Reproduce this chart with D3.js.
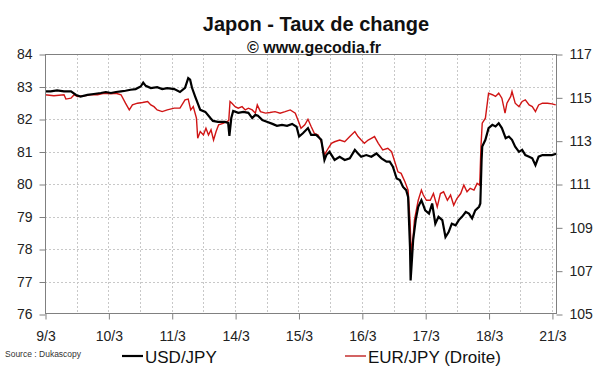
<!DOCTYPE html>
<html>
<head>
<meta charset="utf-8">
<script src="https://cdn.jsdelivr.net/npm/d3@7"></script>
<style>
  body { margin: 0; background: #fff; }
  svg { font-family: "Liberation Sans", Arial, sans-serif; }
</style>
</head>
<body>
<script>
// trading days shown on the x axis (index = position)
var days = ["9/3", "10/3", "11/3", "14/3", "15/3", "16/3", "17/3", "18/3", "21/3"];

// USD/JPY (left axis), time in trading-day units
var usdT = [0, 0.09, 0.19, 0.30, 0.41, 0.49, 0.56, 0.67, 0.77, 0.88, 0.96, 1.04, 1.12, 1.20, 1.27, 1.35, 1.43, 1.51, 1.55, 1.59, 1.67, 1.77, 1.85, 1.93, 2.04,
  2.13, 2.21, 2.26, 2.29, 2.32, 2.37, 2.45, 2.53, 2.61, 2.65, 2.73, 2.84, 2.89, 2.91, 2.94, 2.97, 3.05, 3.13, 3.21, 3.27, 3.32, 3.36, 3.43, 3.51, 3.59, 3.66, 3.74, 3.82, 3.90, 3.97,
  4.01, 4.07, 4.15, 4.20, 4.28, 4.36, 4.41, 4.44, 4.49, 4.57, 4.65, 4.73, 4.81, 4.89, 4.94, 4.99, 5.07, 5.15, 5.23, 5.31, 5.39, 5.44, 5.49, 5.55, 5.60, 5.65, 5.70, 5.73,
  5.76, 5.77, 5.79, 5.81, 5.85, 5.89, 5.94, 5.97, 6.00, 6.06, 6.11, 6.16, 6.21, 6.27, 6.32, 6.37, 6.42, 6.48, 6.53, 6.58, 6.64, 6.69, 6.74, 6.79, 6.85, 6.87,
  6.89, 6.90, 6.95, 7.00, 7.06, 7.11, 7.16, 7.21, 7.27, 7.32, 7.37, 7.42, 7.48, 7.53, 7.58, 7.64, 7.69, 7.74, 7.79, 7.85, 7.90, 7.95, 8.00, 8.08];
var usd = [82.85, 82.85, 82.88, 82.85, 82.85, 82.74, 82.69, 82.74, 82.77, 82.80, 82.83, 82.80, 82.83, 82.85, 82.87, 82.90, 82.92, 83.00, 83.12, 83.02, 82.95, 82.98, 82.92, 82.95, 82.92,
  82.83, 82.96, 83.26, 83.21, 82.96, 82.69, 82.28, 82.22, 82.03, 81.94, 81.91, 81.91, 81.88, 81.48, 82.03, 82.25, 82.19, 82.22, 82.19, 82.03, 82.13, 82.10, 81.97, 81.91, 81.85, 81.79, 81.82, 81.79, 81.85, 81.76,
  81.46, 81.56, 81.72, 81.51, 81.51, 81.36, 80.74, 80.89, 80.99, 80.74, 80.84, 80.74, 80.79, 81.05, 80.94, 80.84, 80.89, 80.84, 80.94, 80.79, 80.69, 80.69, 80.53, 80.17, 80.12, 79.91, 79.81, 79.60,
  78.06, 77.03, 77.65, 78.27, 78.89, 79.30, 79.50, 79.35, 79.19, 79.09, 79.40, 78.78, 78.99, 78.89, 78.37, 78.52, 78.78, 78.73, 78.89, 78.99, 79.14, 79.09, 78.94, 79.19, 79.30, 79.40,
  80.74, 81.15, 81.36, 81.72, 81.82, 81.77, 81.87, 81.72, 81.41, 81.46, 81.36, 81.15, 80.99, 81.05, 80.89, 80.84, 80.79, 80.58, 80.84, 80.89, 80.89, 80.89, 80.89, 80.94];

// EUR/JPY (right axis)
var eurT = [0, 0.14, 0.30, 0.33, 0.41, 0.46, 0.51, 0.62, 0.72, 0.83, 0.93, 1.04, 1.12, 1.20, 1.27, 1.33, 1.38, 1.46, 1.54, 1.62, 1.67, 1.72, 1.77, 1.85, 1.93, 2.04,
  2.13, 2.21, 2.26, 2.30, 2.34, 2.39, 2.41, 2.45, 2.50, 2.54, 2.58, 2.62, 2.66, 2.70, 2.74, 2.82, 2.90, 2.92, 2.95, 3.00, 3.05, 3.11, 3.16, 3.21, 3.27, 3.32, 3.35, 3.40, 3.48, 3.55, 3.63, 3.71, 3.79, 3.87, 3.95,
  4.01, 4.04, 4.10, 4.15, 4.20, 4.25, 4.31, 4.36, 4.41, 4.47, 4.52, 4.57, 4.65, 4.73, 4.81, 4.89, 4.94, 4.99, 5.04, 5.10, 5.15, 5.20, 5.26, 5.33, 5.41, 5.47, 5.52, 5.57, 5.62, 5.68, 5.73,
  5.76, 5.78, 5.81, 5.83, 5.89, 5.94, 5.97, 6.02, 6.08, 6.13, 6.19, 6.24, 6.29, 6.35, 6.40, 6.45, 6.50, 6.56, 6.61, 6.66, 6.71, 6.77, 6.82, 6.86,
  6.88, 6.90, 6.95, 7.00, 7.06, 7.11, 7.16, 7.21, 7.26, 7.29, 7.35, 7.37, 7.42, 7.48, 7.53, 7.58, 7.64, 7.69, 7.74, 7.79, 7.85, 7.93, 8.00, 8.06];
var eur = [115.12, 115.07, 115.12, 114.92, 114.96, 115.12, 115.04, 115.07, 115.12, 115.12, 115.19, 115.16, 115.19, 115.12, 114.73, 114.42, 114.65, 114.73, 114.76, 114.81, 114.65, 114.57, 114.42, 114.34, 114.42, 114.50,
  114.50, 114.88, 114.92, 114.42, 114.57, 114.04, 113.11, 113.42, 113.26, 113.57, 113.26, 113.50, 113.03, 113.42, 113.73, 113.81, 113.93, 114.81, 114.73, 114.57, 114.50, 114.57, 114.42, 114.50, 114.42, 114.27, 114.65, 114.34, 114.27, 114.30, 114.34, 114.27, 114.34, 114.42, 114.27,
  113.81, 113.57, 113.73, 113.99, 113.65, 113.34, 113.26, 112.95, 112.34, 112.65, 112.88, 112.95, 113.03, 112.95, 113.19, 113.42, 113.19, 113.03, 112.88, 113.03, 113.11, 113.19, 112.88, 112.57, 112.65, 112.49, 112.03, 111.56, 111.49, 111.10, 110.72,
  109.33, 107.79, 108.56, 109.33, 110.25, 110.72, 110.49, 110.25, 110.25, 110.56, 109.94, 110.56, 110.64, 110.25, 110.49, 110.02, 110.33, 110.56, 110.95, 110.64, 110.80, 110.72, 111.03, 110.95,
  112.72, 113.81, 114.04, 115.19, 115.12, 115.04, 115.19, 114.96, 114.27, 114.73, 115.04, 115.27, 114.73, 114.57, 114.81, 114.88, 114.65, 114.57, 114.34, 114.65, 114.73, 114.73, 114.70, 114.65];

var leftTicks = [76, 77, 78, 79, 80, 81, 82, 83, 84];
var rightTicks = [105, 107, 109, 111, 113, 115, 117];

var W = 600, H = 372;
var svg = d3.select("body").append("svg").attr("width", W).attr("height", H);

var x = d3.scaleLinear().domain([0, 8.08]).range([45, 557]);
var yL = d3.scaleLinear().domain([76, 84]).range([314, 54]);
var yR = d3.scaleLinear().domain([105, 117]).range([314, 54]);

// grid
var grid = svg.append("g").attr("stroke", "#c8c8c8").attr("stroke-dasharray", "2,2").attr("stroke-width", 1);
grid.selectAll("line.h").data(leftTicks.slice(1, -1)).enter().append("line")
  .attr("x1", 45).attr("x2", 557)
  .attr("y1", function(d){ return Math.round(yL(d)) + 0.5; })
  .attr("y2", function(d){ return Math.round(yL(d)) + 0.5; });
grid.selectAll("line.v").data(d3.range(1, 17).map(function(i){ return i / 2; })).enter().append("line")
  .attr("y1", 54).attr("y2", 314)
  .attr("x1", function(d){ return Math.round(x(d)) + 0.5; })
  .attr("x2", function(d){ return Math.round(x(d)) + 0.5; });

// lines
var lineUsd = d3.line().x(function(d){ return x(d[0]); }).y(function(d){ return yL(d[1]); });
var lineEur = d3.line().x(function(d){ return x(d[0]); }).y(function(d){ return yR(d[1]); });

svg.append("path").datum(d3.zip(eurT, eur)).attr("d", lineEur)
  .attr("fill", "none").attr("stroke", "#d01515").attr("stroke-width", 1.4);
svg.append("path").datum(d3.zip(usdT, usd)).attr("d", lineUsd)
  .attr("fill", "none").attr("stroke", "#000").attr("stroke-width", 2.2);

// frame
svg.append("rect").attr("x", 45.5).attr("y", 54.5).attr("width", 511).attr("height", 259)
  .attr("fill", "none").attr("stroke", "#808080");

// axes
var axL = svg.append("g").attr("transform", "translate(45.5,0.5)")
  .call(d3.axisLeft(yL).tickValues(leftTicks).tickSize(6).tickPadding(7).tickFormat(d3.format("d")));
var axR = svg.append("g").attr("transform", "translate(556.5,0.5)")
  .call(d3.axisRight(yR).tickValues(rightTicks).tickSize(6).tickPadding(7).tickFormat(d3.format("d")));
var axB = svg.append("g").attr("transform", "translate(0.5,313.5)")
  .call(d3.axisBottom(x).tickValues(d3.range(0, 9)).tickSize(6).tickPadding(12)
    .tickFormat(function(i){ return days[i]; }));

[axL, axR, axB].forEach(function(a){
  a.select(".domain").remove();
  a.selectAll("line").attr("stroke", "#808080");
  a.selectAll("text").attr("font-size", 14).attr("fill", "#222")
    .attr("font-family", "'Liberation Sans', Arial, sans-serif");
});

// titles
svg.append("text").attr("x", 316).attr("y", 31).attr("text-anchor", "middle")
  .attr("font-size", 20).attr("font-weight", "bold").attr("fill", "#111")
  .text("Japon - Taux de change");
svg.append("text").attr("x", 314).attr("y", 53).attr("text-anchor", "middle")
  .attr("font-size", 16).attr("font-weight", "bold").attr("fill", "#111")
  .text("© www.gecodia.fr");

// source + legend
svg.append("text").attr("x", 5).attr("y", 357).attr("font-size", 8.5).attr("fill", "#333")
  .text("Source : Dukascopy");

var legend = [
  { label: "USD/JPY", color: "#000", w: 2.2, x: 122 },
  { label: "EUR/JPY (Droite)", color: "#c02020", w: 1.4, x: 345 }
];
var lg = svg.selectAll("g.leg").data(legend).enter().append("g");
lg.append("line").attr("x1", function(d){ return d.x; }).attr("x2", function(d){ return d.x + 21; })
  .attr("y1", 356).attr("y2", 356)
  .attr("stroke", function(d){ return d.color; }).attr("stroke-width", function(d){ return d.w; });
lg.append("text").attr("x", function(d){ return d.x + 23; }).attr("y", 363)
  .attr("font-size", 17).attr("fill", "#111").text(function(d){ return d.label; });
</script>
</body>
</html>
